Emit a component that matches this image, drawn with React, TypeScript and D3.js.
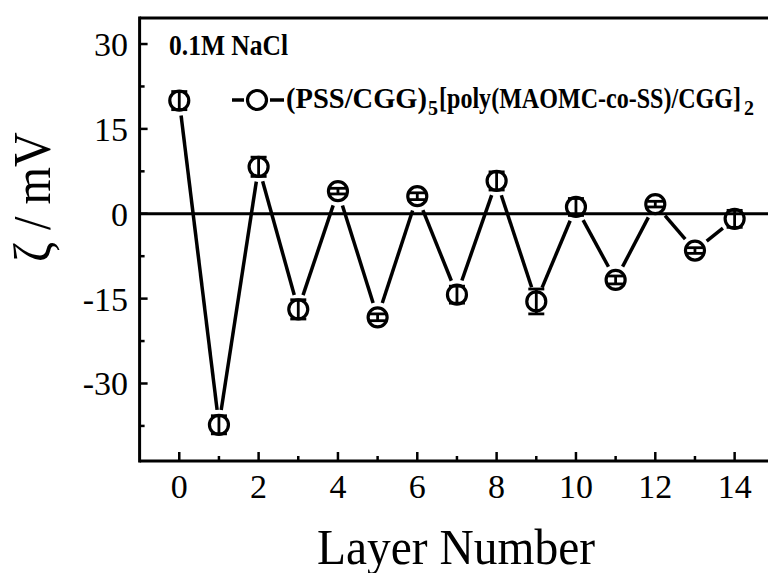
import React from "react";
import * as d3 from "d3";

// layer number vs zeta potential, 0.1 M NaCl
const layers = [0, 1, 2, 3, 4, 5, 6, 7, 8, 9, 10, 11, 12, 13, 14];
const zeta = [20, -37.3, 8.3, -16.9, 4.0, -18.3, 3.1, -14.3, 5.8, -15.5, 1.2, -11.7, 1.7, -6.5, -0.9];
const zetaErr = [1.6, 1.6, 1.7, 1.7, 0.5, 0.6, 0.6, 1.5, 1.6, 2.2, 1.5, 0.7, 0.5, 0.5, 1.5];

const xTicks = [0, 2, 4, 6, 8, 10, 12, 14];
const xMinor = [1, 3, 5, 7, 9, 11, 13];
const yTicks = [30, 15, 0, -15, -30];
const yMinor = [22.5, 7.5, -7.5, -22.5, -37.5];

const W = 768;
const H = 573;
const left = 139.6;
const top = 18;
const bottom = 461;

export default function App() {
  const x = d3.scaleLinear().domain([-1, 15]).range([left, 774.3]);
  const y = d3.scaleLinear().domain([-43.7, 34.6]).range([bottom, top]);

  const pts = layers.map((l, i) => ({ x: x(l), y: y(zeta[i]), e: zetaErr[i] }));
  const gap = 15;

  // segments between markers, shortened so they stop short of the circles
  const segs = d3.pairs(pts).map(([a, b]) => {
    const dx = b.x - a.x;
    const dy = b.y - a.y;
    const len = Math.hypot(dx, dy);
    const ux = dx / len;
    const uy = dy / len;
    return { x1: a.x + ux * gap, y1: a.y + uy * gap, x2: b.x - ux * gap, y2: b.y - uy * gap };
  });

  const font = "'Liberation Serif', 'Times New Roman', serif";
  const sw = 3.2;

  return (
    <svg width={W} height={H} style={{ position: "absolute", left: 0, top: 0, background: "#fff" }} fontFamily={font}>
      {/* frame */}
      <line x1={left} x2={W} y1={top} y2={top} stroke="#000" strokeWidth={3} />
      <line x1={left} x2={left} y1={top - 1.5} y2={bottom + 1.5} stroke="#000" strokeWidth={3} />
      <line x1={left} x2={W} y1={bottom} y2={bottom} stroke="#000" strokeWidth={3} />

      {/* y ticks */}
      {yTicks.map(t => (
        <g key={"yt" + t}>
          <line x1={left} x2={left + 8} y1={y(t)} y2={y(t)} stroke="#000" strokeWidth={2.5} />
          <text x={128} y={y(t)} dy="0.35em" textAnchor="end" fontSize={34}>{t}</text>
        </g>
      ))}
      {yMinor.map(t => (
        <line key={"ym" + t} x1={left} x2={left + 5} y1={y(t)} y2={y(t)} stroke="#000" strokeWidth={2.5} />
      ))}

      {/* x ticks */}
      {xTicks.map(t => (
        <g key={"xt" + t}>
          <line x1={x(t)} x2={x(t)} y1={bottom} y2={bottom - 9} stroke="#000" strokeWidth={2.5} />
          <text x={x(t)} y={498} textAnchor="middle" fontSize={34}>{t}</text>
        </g>
      ))}
      {xMinor.map(t => (
        <line key={"xm" + t} x1={x(t)} x2={x(t)} y1={bottom} y2={bottom - 5} stroke="#000" strokeWidth={2.5} />
      ))}

      {/* axis titles */}
      <text x={456} y={564} textAnchor="middle" fontSize={51} textLength={278} lengthAdjust="spacingAndGlyphs">
        Layer Number
      </text>
      <text
        transform="translate(50,197) rotate(-90)"
        textAnchor="middle"
        fontSize={52}
        textLength={130}
        lengthAdjust="spacingAndGlyphs"
      >
        ζ / mV
      </text>

      {/* data line */}
      {segs.map((s, i) => (
        <line key={"s" + i} x1={s.x1} y1={s.y1} x2={s.x2} y2={s.y2} stroke="#000" strokeWidth={3.5} />
      ))}

      {/* markers */}
      {pts.map((p, i) => (
        <circle key={"c" + i} cx={p.x} cy={p.y} r={9.5} fill="#fff" stroke="#000" strokeWidth={sw} />
      ))}

      {/* error bars */}
      {pts.map((p, i) => {
        const yt = y(zeta[i] + p.e);
        const yb = y(zeta[i] - p.e);
        return (
          <g key={"e" + i} stroke="#000" strokeWidth={2.8}>
            <line x1={p.x} x2={p.x} y1={yt} y2={yb} />
            <line x1={p.x - 8} x2={p.x + 8} y1={yt} y2={yt} />
            <line x1={p.x - 8} x2={p.x + 8} y1={yb} y2={yb} />
          </g>
        );
      })}

      {/* zero line */}
      <line x1={left} x2={W} y1={y(0)} y2={y(0)} stroke="#000" strokeWidth={3} />

      {/* annotation & legend */}
      <text x={169} y={55} fontSize={29} fontWeight="bold" textLength={119} lengthAdjust="spacingAndGlyphs">
        0.1M NaCl
      </text>
      <line x1={232} x2={244} y1={100} y2={100} stroke="#000" strokeWidth={3.5} />
      <line x1={270} x2={284} y1={100} y2={100} stroke="#000" strokeWidth={3.5} />
      <circle cx={257} cy={100} r={9.5} fill="#fff" stroke="#000" strokeWidth={sw} />
      <g fontWeight="bold">
        <text x={286} y={108} fontSize={29} textLength={141} lengthAdjust="spacingAndGlyphs">(PSS/CGG)</text>
        <text x={428} y={115} fontSize={20}>5</text>
        <text x={439} y={108} fontSize={29} textLength={302} lengthAdjust="spacingAndGlyphs">[poly(MAOMC-co-SS)/CGG]</text>
        <text x={744} y={115} fontSize={20}>2</text>
      </g>
    </svg>
  );
}
